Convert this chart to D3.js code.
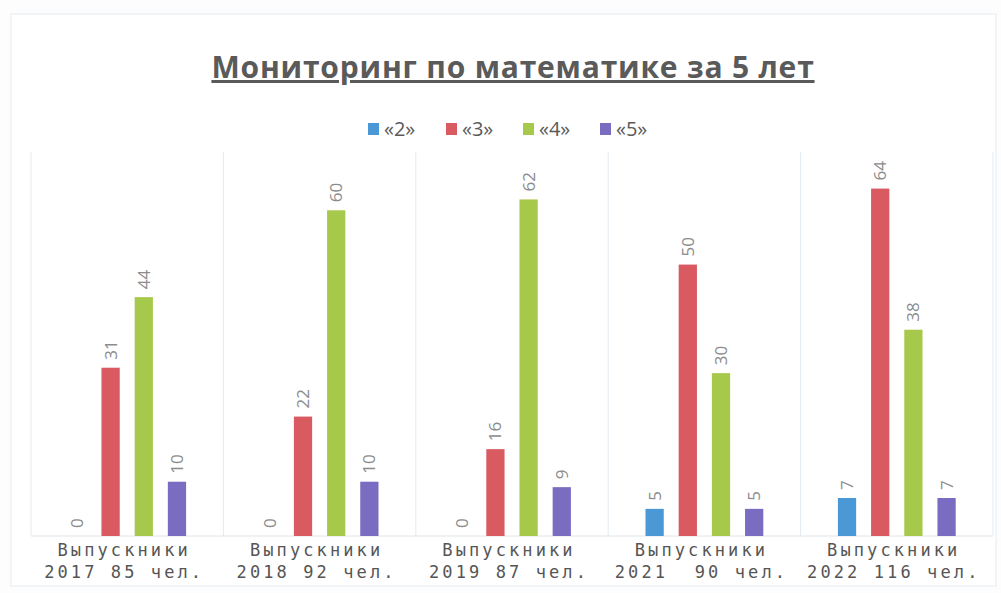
<!DOCTYPE html>
<html>
<head>
<meta charset="utf-8">
<script src="https://cdn.jsdelivr.net/npm/d3@7"></script>
<style>
    body { margin: 0; background: #fdfdfd; }
    svg { display: block; }
</style>
</head>
<body>
<div id="visual"></div>
<script>
// chart data
var categories = ["2017", "2018", "2019", "2021", "2022"];
var catLine1 = ["Выпускники", "Выпускники", "Выпускники", "Выпускники", "Выпускники"];
var catLine2 = ["2017 85 чел.", "2018 92 чел.", "2019 87 чел.", "2021  90 чел.", "2022 116 чел."];
var series = ["«2»", "«3»", "«4»", "«5»"];
var grade2 = [0, 0, 0, 5, 7];
var grade3 = [31, 22, 16, 50, 64];
var grade4 = [44, 60, 62, 30, 38];
var grade5 = [10, 10, 9, 5, 7];
var colors = ["#4b98d6", "#d95a60", "#a7c94b", "#7a6cc1"];

function chart() {
    var w = 1001, h = 593;
    var left = 31, right = 993, top = 152, bottom = 536;

    var svg = d3.select("#visual").append("svg").attr("width", w).attr("height", h);

    svg.append("rect")
        .attr("x", 11).attr("y", 14)
        .attr("width", 985).attr("height", 572)
        .attr("fill", "#ffffff")
        .attr("stroke", "#e4ecf1");

    var values = [grade2, grade3, grade4, grade5];
    var rows = categories.map(function (c, i) {
        return values.map(function (v, s) {
            return { cat: c, s: s, value: v[i] };
        });
    });

    var x0 = d3.scaleBand().domain(categories).range([left, right]);
    var x1 = d3.scaleBand().domain(d3.range(series.length))
        .range([30, x0.bandwidth() - 30]).paddingInner(0.45).paddingOuter(0.22);
    var y = d3.scaleLinear().domain([0, 70]).range([bottom, top + 4]);

    // category separators
    svg.selectAll("line.sep")
        .data(d3.range(categories.length + 1))
        .enter()
        .append("line")
        .attr("x1", function (d) { return left + d * x0.step(); })
        .attr("x2", function (d) { return left + d * x0.step(); })
        .attr("y1", top).attr("y2", bottom)
        .attr("stroke", "#e3ebf0");

    svg.append("line")
        .attr("x1", left).attr("x2", right)
        .attr("y1", bottom).attr("y2", bottom)
        .attr("stroke", "#e0e4e6");

    var groups = svg.selectAll("g.cat")
        .data(rows)
        .enter()
        .append("g")
        .attr("transform", function (d, i) { return "translate(" + x0(categories[i]) + ",0)"; });

    groups.selectAll("rect")
        .data(function (d) { return d; })
        .enter()
        .append("rect")
        .attr("x", function (d) { return x1(d.s); })
        .attr("y", function (d) { return y(d.value); })
        .attr("width", x1.bandwidth())
        .attr("height", function (d) { return bottom - y(d.value); })
        .attr("fill", function (d) { return colors[d.s]; });

    groups.selectAll("text")
        .data(function (d) { return d; })
        .enter()
        .append("text")
        .attr("transform", function (d) {
            return "translate(" + (x1(d.s) + x1.bandwidth() / 2 + 6) + "," + (y(d.value) - 8) + ") rotate(-90)";
        })
        .text(function (d) { return d.value; })
        .attr("font-family", "'Open Sans', sans-serif")
        .attr("font-size", "17px")
        .attr("fill", "#8c8c8c");

    // category labels
    var cl = svg.selectAll("g.lab")
        .data(categories)
        .enter()
        .append("g");

    cl.append("text")
        .attr("x", function (d) { return x0(d) + x0.bandwidth() / 2 - 3; })
        .attr("y", 556)
        .attr("text-anchor", "middle")
        .text(function (d, i) { return catLine1[i]; });

    cl.append("text")
        .attr("x", function (d) { return x0(d) + x0.bandwidth() / 2 - 3; })
        .attr("y", 578)
        .attr("text-anchor", "middle")
        .attr("xml:space", "preserve")
        .style("white-space", "pre")
        .text(function (d, i) { return catLine2[i]; });

    cl.selectAll("text")
        .attr("font-family", "'DejaVu Sans Mono', monospace")
        .attr("font-size", "17px")
        .attr("letter-spacing", "3.1px")
        .attr("fill", "#555");

    // title
    svg.append("text")
        .attr("x", 513).attr("y", 78)
        .attr("text-anchor", "middle")
        .attr("font-family", "'Open Sans', sans-serif")
        .attr("font-weight", "bold")
        .attr("font-size", "30px")
        .attr("letter-spacing", "0.8px")
        .attr("text-decoration", "underline")
        .attr("fill", "#5a5a5a")
        .text("Мониторинг по математике за 5 лет");

    // legend
    var legX = [368, 446, 523, 600];
    var leg = svg.selectAll("g.leg")
        .data(series)
        .enter()
        .append("g")
        .attr("transform", function (d, i) { return "translate(" + legX[i] + ",123)"; });

    leg.append("rect")
        .attr("width", 11).attr("height", 12)
        .attr("fill", function (d, i) { return colors[i]; });

    leg.append("text")
        .attr("x", 16).attr("y", 13)
        .attr("font-family", "'Open Sans', sans-serif")
        .attr("font-size", "20px")
        .attr("fill", "#5a5a5a")
        .text(function (d) { return d; });
}

chart();
</script>
</body>
</html>
